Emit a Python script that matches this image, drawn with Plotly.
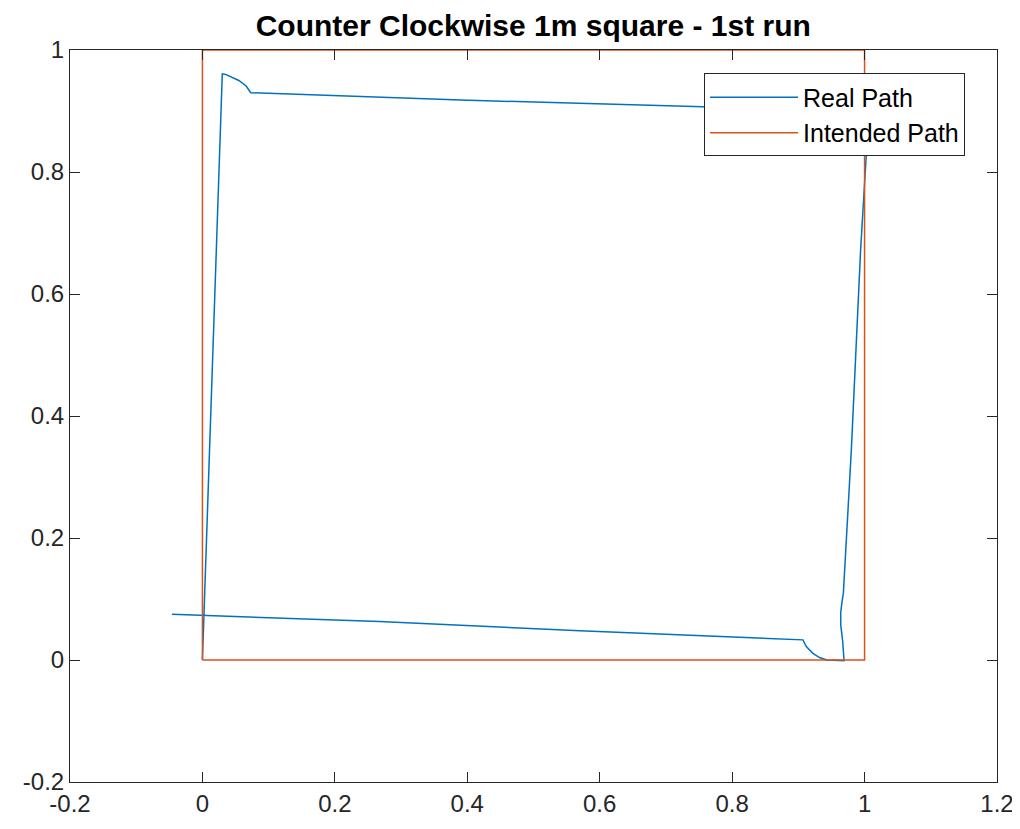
import plotly.graph_objects as go

# Real path (odometry)
real_x = [-0.046, 0.267, 0.570, 0.907, 0.912, 0.922, 0.932, 0.943, 0.969,
          0.967, 0.964, 0.964, 0.966, 0.968, 0.980, 0.994, 1.003, 1.006,
          1.000, 0.990, 0.756, 0.390, 0.073, 0.066, 0.055, 0.045, 0.035,
          0.030, 0.000]
real_y = [0.075, 0.063, 0.048, 0.033, 0.022, 0.011, 0.004, 0.000, -0.001,
          0.030, 0.058, 0.078, 0.096, 0.110, 0.344, 0.672, 0.836, 0.895,
          0.903, 0.903, 0.907, 0.918, 0.930, 0.941, 0.950, 0.955, 0.960,
          0.961, 0.000]

# Intended 1 m square
ideal_x = [0, 1, 1, 0, 0]
ideal_y = [0, 0, 1, 1, 0]

x_ticks = [-0.2, 0, 0.2, 0.4, 0.6, 0.8, 1, 1.2]
x_labels = ["-0.2", "0", "0.2", "0.4", "0.6", "0.8", "1", "1.2"]
y_ticks = [-0.2, 0, 0.2, 0.4, 0.6, 0.8, 1]
y_labels = ["-0.2", "0", "0.2", "0.4", "0.6", "0.8", "1"]

fig = go.Figure()
fig.add_trace(go.Scatter(x=real_x, y=real_y, mode="lines", name="Real Path",
                         line=dict(color="#0072BD", width=1.5)))
fig.add_trace(go.Scatter(x=ideal_x, y=ideal_y, mode="lines", name="Intended Path",
                         line=dict(color="#D95319", width=1.5)))

axis_common = dict(showgrid=False, zeroline=False, showline=True, mirror="ticks",
                   linecolor="#262626", linewidth=1, ticks="inside", ticklen=10,
                   tickcolor="#262626", automargin=False,
                   tickfont=dict(size=24, color="#262626"))

fig.update_layout(
    width=1012, height=813,
    margin=dict(l=62, r=23, t=42, b=39),
    paper_bgcolor="white", plot_bgcolor="white",
    font=dict(family="Liberation Sans, Arial, sans-serif", color="#262626"),
    title=dict(text="<b>Counter Clockwise 1m square - 1st run</b>",
               x=0.519, xanchor="center", y=0.979, yanchor="middle",
               font=dict(size=30, color="black")),
    xaxis=dict(range=[-0.2, 1.2], tickvals=x_ticks, ticktext=x_labels, **axis_common),
    yaxis=dict(range=[-0.2, 1.0], tickvals=y_ticks, ticktext=y_labels, **axis_common),
    legend=dict(x=0.684, y=0.968, xanchor="left", yanchor="top",
                bgcolor="white", bordercolor="#262626", borderwidth=1,
                font=dict(size=25, color="black"), itemwidth=88,
                tracegroupgap=0),
    showlegend=True,
)

fig.write_html("out.html")
